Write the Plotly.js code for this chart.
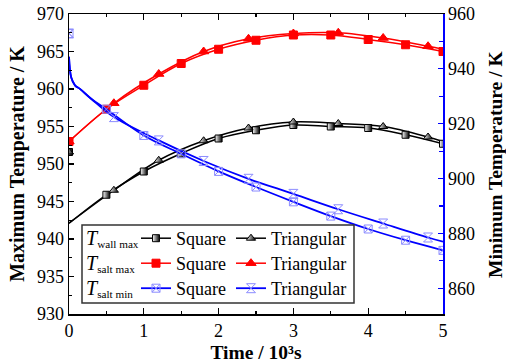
<!DOCTYPE html>
<html>
<head>
<meta charset="utf-8">
<script src="https://cdn.plot.ly/plotly-3.0.1.min.js"></script>
<style>
  html, body { margin: 0; padding: 0; background: #fff; }
  #chart { width: 506px; height: 363px; }
</style>
</head>
<body>
<div id="chart"></div>
<script>
// Time (10^3 s) at which each curve was sampled
const timeSquare = [0, 0.5, 1.0, 1.5, 2.0, 2.5, 3.0, 3.5, 4.0, 4.5, 5.0];
const timeTriangular = [0, 0.6, 1.2, 1.8, 2.4, 3.0, 3.6, 4.2, 4.8, 5.0];
const timeSaltMinSquare = [0, 0.03, 0.08, 0.15, 0.3, 0.5, 1.0, 1.5, 2.0, 2.5, 3.0, 3.5, 4.0, 4.5, 5.0];
const timeSaltMinTriangular = [0, 0.03, 0.08, 0.15, 0.3, 0.6, 1.2, 1.8, 2.4, 3.0, 3.6, 4.2, 4.8, 5.0];

// Times carrying a symbol on each curve
const symbolTimesSquare = [0.5, 1.0, 1.5, 2.0, 2.5, 3.0, 3.5, 4.0, 4.5, 5.0];
const symbolTimesTriangular = [0.6, 1.2, 1.8, 2.4, 3.0, 3.6, 4.2, 4.8];

// Initial state (t = 0), K
const wallMaxInitial = 951.6;
const saltMaxInitial = 953.0;
const saltMinInitial = 952.9;

// Maximum wall temperature, K (left axis)
const wallMaxSquare = [942.1, 945.9, 949.0, 951.4, 953.4, 954.5, 955.2, 955.0, 954.8, 953.9, 952.7];
const wallMaxTriangular = [942.1, 946.5, 950.5, 953.1, 954.8, 955.6, 955.4, 955.0, 953.6, 953.0];

// Maximum salt temperature, K (left axis)
const saltMaxSquare = [953.0, 957.3, 960.5, 963.4, 965.3, 966.5, 967.2, 967.2, 966.6, 965.9, 965.0];
const saltMaxTriangular = [953.0, 958.1, 962.0, 965.0, 966.7, 967.4, 967.5, 966.8, 965.7, 965.3];

// Minimum salt temperature, K (right axis)
const saltMinSquare = [944.4, 936.8, 934.0, 932.6, 929.0, 925.3, 915.7, 909.0, 902.6, 896.9, 891.5, 886.3, 881.6, 877.5, 873.8];
const saltMinTriangular = [944.4, 936.8, 934.0, 932.6, 929.0, 922.4, 913.9, 906.4, 899.9, 894.4, 888.8, 883.6, 878.5, 877.0];

// Legend and axis texts
const rowLabels = ['<span style="font-size:20px"><i>T</i></span><sub>wall max</sub>',
                   '<span style="font-size:20px"><i>T</i></span><sub>salt max</sub>',
                   '<span style="font-size:20px"><i>T</i></span><sub>salt min</sub>'];
const shapeNames = ['Square', 'Triangular'];
const rightAxisTitle = '<b>Minimum Temperature / K</b>';

const FONT = 'Liberation Serif';
const BLACK = '#000000', RED = '#ff0000', BLUE = '#0000ff', LIGHTBLUE = '#8c8cff';

const markerStyles = {
  wallSq:  {symbol: 'square', size: 7, color: '#ffffff', gradient: {type: 'horizontal', color: BLACK}, line: {color: BLACK, width: 1}},
  wallTri: {symbol: 'triangle-up', size: 8, color: '#ffffff', gradient: {type: 'horizontal', color: BLACK}, line: {color: BLACK, width: 1}},
  saltMaxSq:  {symbol: 'square', size: 8, color: RED, line: {color: RED, width: 1}},
  saltMaxTri: {symbol: 'triangle-up', size: 9, color: RED, line: {color: RED, width: 1}},
  saltMinSq:  {symbol: 'square-x-open', size: 8, color: LIGHTBLUE, line: {color: LIGHTBLUE, width: 1}},
  saltMinTri: {symbol: 'hourglass-open', size: 9, color: LIGHTBLUE, line: {color: LIGHTBLUE, width: 1}}
};

const series = [
  {t: timeSquare, v: wallMaxSquare, init: wallMaxInitial, marks: symbolTimesSquare, color: BLACK, width: 1.5, axis: 'y', marker: markerStyles.wallSq, legend: 'legend', name: shapeNames[0]},
  {t: timeTriangular, v: wallMaxTriangular, init: wallMaxInitial, marks: symbolTimesTriangular, color: BLACK, width: 1.5, axis: 'y', marker: markerStyles.wallTri, legend: 'legend', name: shapeNames[1]},
  {t: timeSquare, v: saltMaxSquare, init: saltMaxInitial, marks: symbolTimesSquare, color: RED, width: 1.5, axis: 'y', marker: markerStyles.saltMaxSq, legend: 'legend2', name: shapeNames[0]},
  {t: timeTriangular, v: saltMaxTriangular, init: saltMaxInitial, marks: symbolTimesTriangular, color: RED, width: 1.5, axis: 'y', marker: markerStyles.saltMaxTri, legend: 'legend2', name: shapeNames[1]},
  {t: timeSaltMinSquare, v: saltMinSquare, init: saltMinInitial, marks: symbolTimesSquare, color: BLUE, width: 1.8, axis: 'y2', marker: markerStyles.saltMinSq, legend: 'legend3', name: shapeNames[0]},
  {t: timeSaltMinTriangular, v: saltMinTriangular, init: saltMinInitial, marks: symbolTimesTriangular, color: BLUE, width: 1.8, axis: 'y2', marker: markerStyles.saltMinTri, legend: 'legend3', name: shapeNames[1]}
];

const lineTraces = [], markerTraces = [], legendTraces = [];
series.forEach(s => {
  lineTraces.push({
    x: s.t, y: s.v, yaxis: s.axis, type: 'scatter', mode: 'lines',
    line: {color: s.color, width: s.width, shape: 'spline', smoothing: 1},
    showlegend: false, hoverinfo: 'skip'
  });
  const mx = [0], my = [s.init];
  s.t.forEach((tt, i) => {
    if (s.marks.some(m => Math.abs(m - tt) < 1e-9)) { mx.push(tt); my.push(s.v[i]); }
  });
  markerTraces.push({
    x: mx, y: my, yaxis: s.axis, type: 'scatter', mode: 'markers',
    marker: s.marker, showlegend: false, hoverinfo: 'skip'
  });
  legendTraces.push({
    x: [null], y: [null], yaxis: s.axis, type: 'scatter', mode: 'lines+markers',
    name: s.name, legend: s.legend,
    line: {color: s.color, width: s.width}, marker: s.marker
  });
});

// plot area in pixels: x 69..443, y 14..314
const W = 506, H = 363, L = 69, R = 63, T = 14, B = 49;
const pw = W - L - R, ph = H - T - B;
const px = x => (x - L) / pw;
const py = y => (H - B - y) / ph;

const rowY = [238.5, 263.5, 288.5];
function legendAt(y) {
  return {
    orientation: 'h', x: px(136), xanchor: 'left', y: py(y), yanchor: 'middle',
    bgcolor: 'rgba(0,0,0,0)', borderwidth: 0,
    font: {family: FONT, size: 18, color: '#000'},
    itemwidth: 30, tracegroupgap: 0
  };
}

const annotations = rowLabels.map((txt, i) => ({
  xref: 'paper', yref: 'paper', x: px(84), y: py(rowY[i]), xanchor: 'left', yanchor: 'middle',
  text: txt, showarrow: false, font: {family: FONT, size: 16, color: '#000'}
}));
// right-hand axis title, set close to the page edge
annotations.push({
  xref: 'paper', yref: 'paper', x: px(495), y: 0.5, xanchor: 'center', yanchor: 'middle',
  textangle: -90, text: rightAxisTitle, showarrow: false,
  font: {family: FONT, size: 19.5, color: '#000'}
});

const layout = {
  width: W, height: H,
  margin: {l: L, r: R, t: T, b: B, pad: 0},
  paper_bgcolor: '#fff', plot_bgcolor: '#fff',
  font: {family: FONT, size: 18, color: '#000'},
  xaxis: {
    range: [0, 5], dtick: 1, tick0: 0, ticks: 'inside', ticklen: 6, tickwidth: 1.2, tickcolor: '#000',
    minor: {dtick: 0.5, ticks: 'inside', ticklen: 3, tickwidth: 1.2, tickcolor: '#000'},
    showline: true, linecolor: '#000', linewidth: 1.5, mirror: 'ticks',
    showgrid: false, zeroline: false,
    tickfont: {family: FONT, size: 18},
    title: {text: '<b>Time / 10³s</b>', font: {family: FONT, size: 19.5}, standoff: 10}
  },
  yaxis: {
    range: [930, 970], dtick: 5, tick0: 930, ticks: 'inside', ticklen: 5, tickwidth: 1.2, tickcolor: '#000',
    minor: {dtick: 2.5, ticks: 'inside', ticklen: 3, tickwidth: 1.2, tickcolor: '#000'},
    showline: true, linecolor: '#000', linewidth: 1.5,
    showgrid: false, zeroline: false,
    tickfont: {family: FONT, size: 18},
    title: {text: '<b>Maximum Temperature / K</b>', font: {family: FONT, size: 20}, standoff: 7}
  },
  yaxis2: {
    overlaying: 'y', side: 'right',
    range: [850.6, 960], dtick: 20, tick0: 860, ticks: 'inside', ticklen: 5, tickwidth: 1.2, tickcolor: BLUE,
    minor: {dtick: 10, ticks: 'inside', ticklen: 4, tickwidth: 1.2, tickcolor: BLUE},
    showline: true, linecolor: BLUE, linewidth: 1.5,
    showgrid: false, zeroline: false,
    tickfont: {family: FONT, size: 18, color: '#000'}
  },
  legend: legendAt(rowY[0]),
  legend2: legendAt(rowY[1]),
  legend3: legendAt(rowY[2]),
  shapes: [{
    type: 'rect', xref: 'paper', yref: 'paper', layer: 'above',
    x0: px(82), x1: px(354), y0: py(303), y1: py(225),
    fillcolor: '#fff', line: {color: '#333', width: 1.5}
  }],
  annotations: annotations,
  showlegend: true
};

Plotly.newPlot('chart', [...lineTraces, ...markerTraces, ...legendTraces], layout, {displayModeBar: false, staticPlot: true});
</script>
</body>
</html>
